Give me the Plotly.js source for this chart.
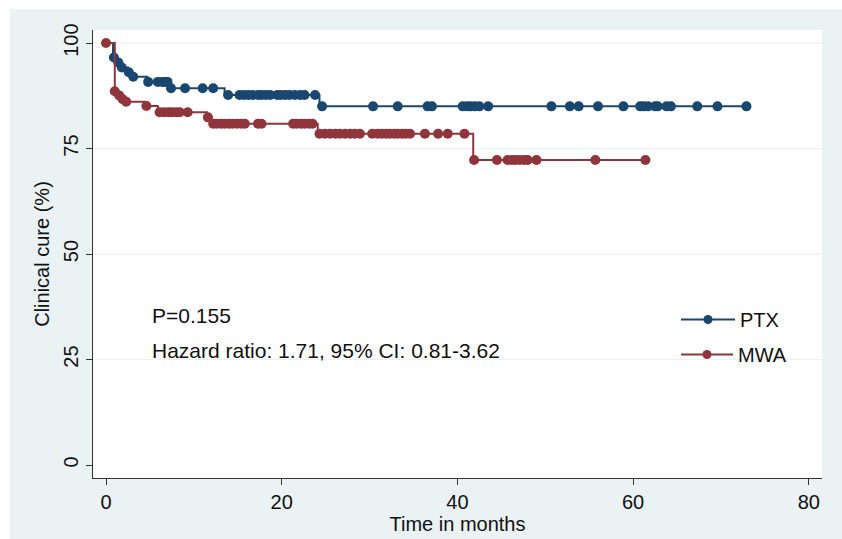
<!DOCTYPE html>
<html>
<head>
<meta charset="utf-8">
<script src="https://cdn.plot.ly/plotly-3.0.1.min.js"></script>
<style>html,body{margin:0;padding:0;background:#fff;}#chart{width:842px;height:539px;}</style>
</head>
<body>
<div id="chart"></div>
<script>
// Kaplan-Meier step points (time in months, clinical cure %)
const ptxStepTimes = [0, 0.8, 1.3, 1.7, 2.5, 2.9, 4.7, 7.2, 13.5, 24.3, 72.9];
const ptxStepSurv  = [100, 96.6, 95.4, 94.2, 93.1, 92.0, 90.8, 89.3, 87.7, 85.0, 85.0];
// Censored observations (PTX)
const ptxCensTimes = [0.9, 1.4, 1.8, 2.6, 3.1, 4.8, 5.9, 6.4, 6.7, 7.0, 7.4, 9.0, 11.0, 12.2,
  13.9, 15.2, 15.7, 16.2, 16.7, 17.3, 17.7, 18.2, 18.7, 19.5, 19.9, 20.4, 20.9, 21.5, 22.1, 22.6, 23.8,
  24.6, 30.4, 33.2, 36.6, 37.1, 40.6, 41.1, 41.5, 42.0, 42.5, 43.5, 50.7, 52.8, 53.8, 56.0, 58.9,
  60.8, 61.2, 61.7, 62.5, 62.8, 63.8, 64.3, 67.3, 69.6, 72.9];
const ptxCensSurv = [96.6, 95.4, 94.2, 93.1, 92.0, 90.8, 90.8, 90.8, 90.8, 90.8, 89.3, 89.3, 89.3, 89.3,
  87.7, 87.7, 87.7, 87.7, 87.7, 87.7, 87.7, 87.7, 87.7, 87.7, 87.7, 87.7, 87.7, 87.7, 87.7, 87.7, 87.7,
  85.0, 85.0, 85.0, 85.0, 85.0, 85.0, 85.0, 85.0, 85.0, 85.0, 85.0, 85.0, 85.0, 85.0, 85.0, 85.0,
  85.0, 85.0, 85.0, 85.0, 85.0, 85.0, 85.0, 85.0, 85.0, 85.0];

const mwaStepTimes = [0, 1.0, 1.4, 1.8, 2.2, 4.4, 5.9, 11.5, 12.0, 24.1, 41.8, 61.4];
const mwaStepSurv  = [100, 88.6, 87.6, 86.7, 86.1, 85.1, 83.6, 82.4, 80.9, 78.5, 72.3, 72.3];
const mwaCensTimes = [0, 1.0, 1.5, 1.9, 2.3, 4.6, 6.1, 6.6, 7.1, 7.5, 8.0, 8.4, 9.3, 11.6,
  12.2, 12.6, 13.1, 13.5, 14.0, 14.4, 14.9, 15.4, 15.8, 17.3, 17.7, 21.3, 21.7, 22.2, 22.6, 23.1, 23.5,
  24.3, 24.9, 25.5, 26.1, 26.6, 27.2, 27.8, 28.3, 28.9, 30.3, 30.9, 31.4, 31.9, 32.3, 32.8, 33.2, 33.7,
  34.1, 34.6, 36.3, 37.8, 38.9, 40.8,
  41.9, 44.5, 45.7, 46.2, 46.6, 47.1, 47.6, 48.0, 49.0, 55.7, 61.4];
const mwaCensSurv = [100, 88.6, 87.6, 86.7, 86.1, 85.1, 83.6, 83.6, 83.6, 83.6, 83.6, 83.6, 83.6, 82.4,
  80.9, 80.9, 80.9, 80.9, 80.9, 80.9, 80.9, 80.9, 80.9, 80.9, 80.9, 80.9, 80.9, 80.9, 80.9, 80.9, 80.9,
  78.5, 78.5, 78.5, 78.5, 78.5, 78.5, 78.5, 78.5, 78.5, 78.5, 78.5, 78.5, 78.5, 78.5, 78.5, 78.5, 78.5,
  78.5, 78.5, 78.5, 78.5, 78.5, 78.5,
  72.3, 72.3, 72.3, 72.3, 72.3, 72.3, 72.3, 72.3, 72.3, 72.3, 72.3];

const xTicks = [0, 20, 40, 60, 80];
const yTicks = [0, 25, 50, 75, 100];
const gridVals = [25, 50, 75, 100];
const groupNames = ['PTX', 'MWA'];
const noteLines = ['P=0.155', 'Hazard ratio: 1.71, 95% CI: 0.81-3.62'];

const BLUE = '#1a476f', RED = '#90353b', BG = '#eaf2f3';
const FONT = 'Arial, "Liberation Sans", sans-serif';
const FS = 20;

const traces = [
  {x: ptxStepTimes, y: ptxStepSurv, mode: 'lines', line: {shape: 'hv', color: BLUE, width: 2}, showlegend: false, hoverinfo: 'skip'},
  {x: ptxCensTimes, y: ptxCensSurv, mode: 'markers', marker: {color: BLUE, size: 10}, showlegend: false},
  {x: mwaStepTimes, y: mwaStepSurv, mode: 'lines', line: {shape: 'hv', color: RED, width: 2}, showlegend: false, hoverinfo: 'skip'},
  {x: mwaCensTimes, y: mwaCensSurv, mode: 'markers', marker: {color: RED, size: 10}, showlegend: false},
  {x: [null], y: [null], name: groupNames[0], mode: 'lines+markers', line: {color: BLUE, width: 2}, marker: {color: BLUE, size: 9}, legend: 'legend'},
  {x: [null], y: [null], name: groupNames[1], mode: 'lines+markers', line: {color: RED, width: 2}, marker: {color: RED, size: 9}, legend: 'legend2'}
];

const PX = {l: 93, r: 20, t: 30, b: 61, W: 842, H: 539};
const pw = PX.W - PX.l - PX.r, ph = PX.H - PX.t - PX.b;
const fx = p => (p - PX.l) / pw, fy = p => (PX.H - PX.b - p) / ph;

const shapes = gridVals.map(v => ({type: 'line', xref: 'paper', yref: 'y', x0: 0, x1: 1, y0: v, y1: v, line: {color: BG, width: 1.2}, layer: 'below'}));
// white outer border strips (top and left)
shapes.push({type: 'rect', xref: 'paper', yref: 'paper', x0: fx(-5), x1: fx(PX.W + 5), y0: fy(9), y1: fy(-5), fillcolor: '#fff', line: {width: 0}, layer: 'above'});
shapes.push({type: 'rect', xref: 'paper', yref: 'paper', x0: fx(-5), x1: fx(10), y0: fy(PX.H + 5), y1: fy(-5), fillcolor: '#fff', line: {width: 0}, layer: 'above'});

const layout = {
  width: 842, height: 539,
  margin: {l: PX.l, r: PX.r, t: PX.t, b: PX.b, pad: 0},
  paper_bgcolor: BG, plot_bgcolor: '#fff',
  font: {family: FONT, size: FS, color: '#111'},
  xaxis: {
    range: [-1.48, 81.5], tickvals: xTicks, ticktext: xTicks.map(String),
    showgrid: false, zeroline: false, showline: true, linecolor: '#333', linewidth: 1,
    ticks: 'outside', ticklen: 6, tickcolor: '#333', tickfont: {size: FS, family: FONT},
    title: {text: 'Time in months', font: {size: FS, family: FONT}, standoff: 2}
  },
  yaxis: {
    range: [-3.08, 103.1], tickvals: yTicks, ticktext: yTicks.map(String), tickangle: -90,
    showgrid: false, zeroline: false, showline: true, linecolor: '#333', linewidth: 1,
    ticks: 'outside', ticklen: 6, tickcolor: '#333', tickfont: {size: FS, family: FONT},
    title: {text: 'Clinical cure (%)', font: {size: FS, family: FONT}, standoff: 5}
  },
  legend: {x: fx(676), y: fy(300), xanchor: 'left', yanchor: 'top', bgcolor: 'rgba(0,0,0,0)', itemwidth: 54, font: {size: FS, family: FONT}},
  legend2: {x: fx(676), y: fy(335), xanchor: 'left', yanchor: 'top', bgcolor: 'rgba(0,0,0,0)', itemwidth: 52, font: {size: FS, family: FONT}},
  annotations: [
    {xref: 'x', yref: 'y', x: 5.0, y: 35.5, text: noteLines[0], showarrow: false, xanchor: 'left', font: {size: 21, family: FONT}},
    {xref: 'x', yref: 'y', x: 5.0, y: 27.2, text: noteLines[1], showarrow: false, xanchor: 'left', font: {size: 21, family: FONT}}
  ],
  shapes: shapes
};

Plotly.newPlot('chart', traces, layout, {displayModeBar: false, staticPlot: true});
</script>
</body>
</html>
